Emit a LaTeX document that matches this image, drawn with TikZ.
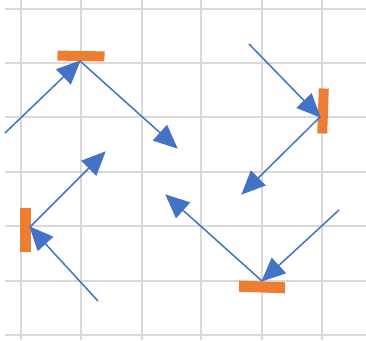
\documentclass[tikz,border=0pt]{standalone}
\usetikzlibrary{arrows.meta}
\definecolor{gridgray}{HTML}{D9D9D9}
\definecolor{xlblue}{HTML}{4472C4}
\definecolor{xlorange}{HTML}{ED7D31}
\begin{document}
\begin{tikzpicture}[x=1pt,y=-1pt,
  gridline/.style={draw=gridgray,line width=1.6pt},
  bar/.style={fill=xlorange,draw=none,inner sep=0pt,outer sep=0pt,rectangle},
  ray/.style={draw=xlblue,line width=1.5pt,-{Triangle[length=24pt,width=21pt]},shorten >=-1pt}]
\useasboundingbox (0,0) rectangle (366,340);
\fill[white] (0,0) rectangle (366,340);
% grid
\foreach \gx in {21,81,142,201,262,322} \draw[gridline] (\gx,0) -- (\gx,340);
\foreach \gy in {9,63,117,172,226,281,335} \draw[gridline] (5,\gy) -- (366,\gy);
% orange bars
\node[bar,minimum width=47pt,minimum height=10pt,rotate=-1] (topbar) at (81,56) {};
\node[bar,minimum width=10pt,minimum height=45pt,rotate=-2] (rightbar) at (323,111) {};
\node[bar,minimum width=11pt,minimum height=44pt] (leftbar) at (25,230) {};
\node[bar,minimum width=46pt,minimum height=11pt,rotate=-2] (bottombar) at (262,287) {};
% contact points
\coordinate (tA) at (80,61);
\coordinate (tR) at (320,117);
\coordinate (tL) at (30,227);
\coordinate (tB) at (262,281);
% free ends
\coordinate (a1s) at (5,133);
\coordinate (a2e) at (177,148);
\coordinate (a3e) at (105,152);
\coordinate (a4s) at (98,301);
\coordinate (a5s) at (249,44);
\coordinate (a6e) at (242,194);
\coordinate (a7e) at (166,195);
\coordinate (a8s) at (339,210);
% rays
\draw[ray] (a1s) -- (tA);
\draw[ray] (tA) -- (a2e);
\draw[ray] (tL) -- (a3e);
\draw[ray] (a4s) -- (tL);
\draw[ray] (a5s) -- (tR);
\draw[ray] (tR) -- (a6e);
\draw[ray] (tB) -- (a7e);
\draw[ray] (a8s) -- (tB);
\end{tikzpicture}
\end{document}
